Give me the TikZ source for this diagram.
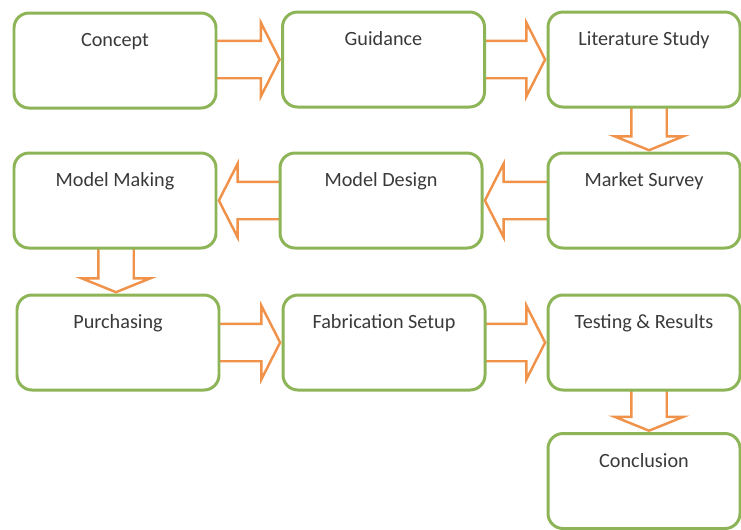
\documentclass[tikz,border=0pt]{standalone}
\usepackage{fontspec}
\setmainfont{Carlito}
\usepackage{xcolor}
\usepackage{tikz}
\usetikzlibrary{shapes.arrows, positioning, calc, backgrounds}
\definecolor{StepGreen}{HTML}{8DB456}
\definecolor{FlowOrange}{HTML}{F0924A}
\definecolor{StepText}{HTML}{3A3A3A}
\tikzset{
    % Process step (rounded box, label near the top)
    stepbox/.style={rectangle, rounded corners=0.3cm, draw=StepGreen, fill=white,
        line width=1.7pt, minimum width=4.04cm, inner sep=0pt,
        text height=0.67cm, text depth=1.23cm, text=StepText,
        font=\fontsize{11.5}{13}\selectfont},
    % Narrower step (right column)
    sidebox/.style={stepbox, minimum width=3.84cm},
    % Hollow block arrow
    flowarrow/.style={single arrow, draw=FlowOrange, fill=white, line width=1.4pt,
        inner xsep=0pt, anchor=tip},
    % Horizontal arrow
    harrow/.style={flowarrow, minimum height=1.45cm, inner ysep=0.35cm,
        single arrow head extend=0.36cm, single arrow tip angle=126},
    % Vertical arrow (points down)
    varrow/.style={flowarrow, rotate=-90, minimum height=1.05cm, inner ysep=0.33cm,
        single arrow head extend=0.33cm, single arrow tip angle=136},
}

\begin{document}
\begin{tikzpicture}
    \useasboundingbox (0,0) rectangle (14.82,-10.58);

    % Row 1
    \node[stepbox] (concept) at (2.30,-1.21) {Concept};
    \node[stepbox] (guidance) at (7.67,-1.19) {Guidance};
    \node[sidebox] (litstudy) at (12.88,-1.19) {Literature Study};
    % Row 2
    \node[stepbox] (modelmaking) at (2.30,-4.01) {Model Making};
    \node[stepbox] (modeldesign) at (7.62,-4.01) {Model Design};
    \node[sidebox] (marketsurvey) at (12.88,-4.01) {Market Survey};
    % Row 3
    \node[stepbox] (purchasing) at (2.36,-6.85) {Purchasing};
    \node[stepbox] (fabsetup) at (7.68,-6.85) {Fabrication Setup};
    \node[sidebox] (testing) at (12.88,-6.85) {Testing \& Results};
    % Row 4
    \node[sidebox] (conclusion) at (12.88,-9.62) {Conclusion};

    % Arrows (behind the boxes)
    \begin{scope}[on background layer]
        \node[harrow] (a1) at (guidance.west) {};
        \node[harrow] (a2) at (litstudy.west) {};
        \node[varrow] (a3) at ([xshift=0.1cm]marketsurvey.north) {};
        \node[harrow, rotate=180] (a4) at (modeldesign.east) {};
        \node[harrow, rotate=180] (a5) at (modelmaking.east) {};
        \node[varrow] (a6) at ([xshift=-0.04cm]purchasing.north) {};
        \node[harrow] (a7) at (fabsetup.west) {};
        \node[harrow] (a8) at (testing.west) {};
        \node[varrow] (a9) at ([xshift=0.1cm]conclusion.north) {};
    \end{scope}
\end{tikzpicture}
\end{document}
